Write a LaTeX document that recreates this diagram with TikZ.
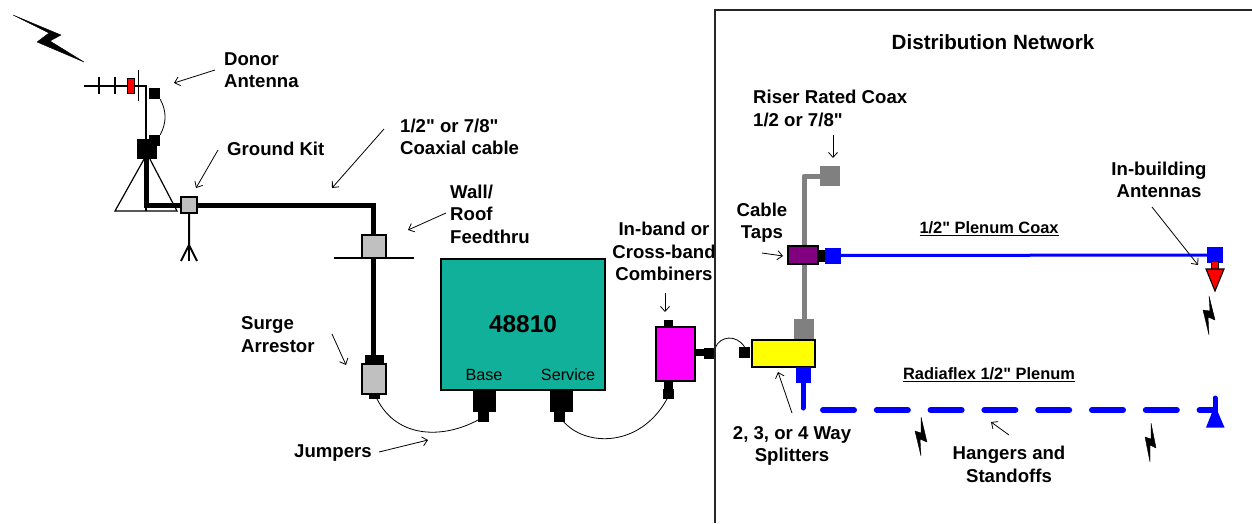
\documentclass[tikz,border=0pt]{standalone}
\usepackage{fontspec}
\setmainfont[Ligatures=TeXOff]{Liberation Sans}
\usepackage{tikz}
\usetikzlibrary{arrows.meta}

\definecolor{basegreen}{RGB}{16,176,154}
\definecolor{tapviolet}{RGB}{128,0,128}
\definecolor{kitgray}{RGB}{192,192,192}
\definecolor{combpink}{RGB}{255,0,255}
\definecolor{splityellow}{RGB}{255,255,0}
\definecolor{plenumblue}{RGB}{0,0,255}
\definecolor{antred}{RGB}{255,0,0}

\begin{document}
\begin{tikzpicture}[x=1pt,y=-1pt]
\tikzstyle{lab}=[inner sep=0pt, font=\bfseries\fontsize{18.6}{22.5}\selectfont, align=center]
\tikzstyle{sublab}=[lab, font=\bfseries\fontsize{16.4}{18}\selectfont]
\tikzstyle{port}=[inner sep=0pt, font=\fontsize{16.2}{18}\selectfont]
\tikzstyle{blk}=[rectangle, inner sep=0pt, fill=black]
\tikzstyle{box}=[rectangle, inner sep=0pt, draw=black, line width=1.2pt]
\tikzstyle{flat}=[rectangle, inner sep=0pt]
\tikzstyle{connect}=[-{Straight Barb[length=5pt,width=9pt]}, line width=0.8pt]
\tikzstyle{jumper}=[line width=0.8pt]
\tikzstyle{thin}=[line width=1.2pt]
\tikzstyle{coax}=[line width=5pt]
\tikzstyle{riser}=[line width=5pt, draw=gray]
\tikzstyle{bolt}=[fill=black, draw=black, line width=0.4pt, line join=round]
  \useasboundingbox (0,0) rectangle (1252,523);
  % donor antenna
  \coordinate (boomleft) at (84,86);
  \coordinate (boomright) at (146,86);
  \coordinate (tick1a) at (99,77);
  \coordinate (tick1b) at (99,94);
  \coordinate (tick2a) at (115,77);
  \coordinate (tick2b) at (115,94);
  \coordinate (refla) at (138.5,70);
  \coordinate (reflb) at (138.5,101);
  \coordinate (mastfoot) at (146,211);
  \coordinate (triL) at (115,211);
  \coordinate (triR) at (177,211);
  \draw[thin] (boomleft) -- (boomright) -- (mastfoot);
  \draw[thin] (tick1a) -- (tick1b);
  \draw[thin] (tick2a) -- (tick2b);
  \draw[thin] (refla) -- (reflb);
  \node[box, fill=antred, minimum width=7.5pt, minimum height=15.5pt] (driven) at (131,86) {};
  \node[blk, minimum size=11pt] (antplug) at (154.5,93.5) {};
  \node[blk, minimum size=11pt] (mastplug) at (154.5,140.5) {};
  \node[blk, minimum width=20pt, minimum height=20pt] (mastbox) at (147,149) {};
  \draw[jumper] (antplug.south east) to[bend left=28] (mastplug.north east);
  % tripod
  \draw[thin] ([xshift=-3pt]mastbox.south) -- (triL) -- (triR) -- ([xshift=3pt]mastbox.south);
  % ground kit
  \node[box, fill=kitgray, line width=2pt, minimum size=15.5pt] (kit) at (189,205) {};
  \coordinate (gstem) at (189,245);
  \coordinate (gfork1) at (181,261);
  \coordinate (gfork2) at (189,261);
  \coordinate (gfork3) at (197,261);
  \draw[line width=2pt] (kit) -- (gstem) -- (gfork1);
  \draw[line width=2pt] (gstem) -- (gfork2);
  \draw[line width=2pt] (gstem) -- (gfork3);
  % feedthru and arrestor
  \node[box, fill=kitgray, minimum width=24pt, minimum height=23pt] (feed) at (374,246.5) {};
  \coordinate (wallL) at (334,258);
  \coordinate (wallR) at (414,258);
  \draw[line width=1.2pt] (wallL) -- (wallR);
  \node[blk, minimum width=19pt, minimum height=9pt] (arrtop) at (374,359.5) {};
  \node[box, fill=kitgray, minimum width=24pt, minimum height=30pt] (arrest) at (374,379) {};
  \node[blk, minimum width=11pt, minimum height=5.5pt] (arrbot) at (374.5,396.5) {};
  % main coax
  \coordinate (bendA) at (146,205);
  \coordinate (bendB) at (373.5,205);
  \draw[coax, line join=miter] (mastbox.south -| bendA) -- (bendA) -- (kit);
  \draw[coax, line join=miter] (kit) -- (bendB) -- (feed.north -| bendB);
  \draw[coax] (feed.south -| bendB) -- (arrtop.north -| bendB);
  % base station
  \node[box, fill=basegreen, minimum width=164pt, minimum height=131pt] (base) at (523,324.5) {};
  \node[lab, font=\bfseries\fontsize{24.4}{24}\selectfont] (basenum) at (523,324) {48810};
  \node[port] (baselab) at (484,375) {Base};
  \node[port] (servlab) at (568,375) {Service};
  \node[blk, minimum width=23pt, minimum height=22pt] (baseplug) at (484.5,401) {};
  \node[blk, minimum width=11pt, minimum height=10pt] (basetip) at (483,416.5) {};
  \node[blk, minimum width=23pt, minimum height=22pt] (servplug) at (561.5,401) {};
  \node[blk, minimum width=11pt, minimum height=10pt] (servtip) at (559.5,416.5) {};
  % combiner
  \node[box, fill=combpink, minimum width=39pt, minimum height=54pt] (comb) at (675.5,354) {};
  \node[blk, minimum width=9pt, minimum height=7pt] (combtop) at (668.5,323.5) {};
  \node[blk, minimum width=9pt, minimum height=8pt] (combbot) at (668,385) {};
  \node[blk, minimum width=11pt, minimum height=10pt] (combtip) at (668.5,394) {};
  \node[blk, minimum width=9pt, minimum height=7pt] (combr) at (699.5,352.5) {};
  \node[blk, minimum width=11pt, minimum height=11pt] (combout) at (709.5,353.5) {};
  % jumpers
  \coordinate (j1a) at (377,399);
  \coordinate (j1b) at (478,420);
  \coordinate (j2a) at (563,421);
  \coordinate (j2b) at (667,399);
  \draw[jumper] (j1a) .. controls (398,440) and (445,438) .. (j1b);
  \draw[jumper] (j2a) .. controls (585,447) and (640,448) .. (j2b);
  % splitter and taps
  \node[flat, fill=gray, minimum width=20pt, minimum height=21pt] (splitin) at (804,329.5) {};
  \node[box, fill=splityellow, minimum width=63pt, minimum height=27pt] (split) at (783.5,353.5) {};
  \node[flat, fill=plenumblue, minimum width=15pt, minimum height=16pt] (splitout) at (803.5,375) {};
  \node[blk, minimum width=11pt, minimum height=11pt] (splitplug) at (744.5,352.5) {};
  \draw[jumper] (combout.north east) .. controls (720,336) and (736,334) .. (splitplug.north);
  % riser
  \node[flat, fill=gray, minimum size=20pt] (riserend) at (830,176) {};
  \node[box, fill=tapviolet, minimum width=30pt, minimum height=18pt] (tap) at (803,255) {};
  \node[blk, minimum width=10pt, minimum height=12pt] (tapplug) at (822.5,256) {};
  \node[flat, fill=plenumblue, minimum size=16pt] (tapout) at (833,255.5) {};
  \coordinate (riserbend) at (804,176);
  \draw[riser, line join=round] (riserend) -- (riserbend) -- (tap.north -| riserbend);
  \draw[riser] (tap.south -| riserbend) -- (splitin);
  % plenum coax and antenna
  \node[flat, fill=plenumblue, minimum size=16pt] (antblue) at (1215,255) {};
  \draw[line width=3pt, plenumblue] (tapout) -- (antblue);
  \node[box, fill=antred, line width=0.9pt, minimum width=7pt, minimum height=8pt] (antneck) at (1215,265) {};
  \coordinate (redL) at (1206,269);
  \coordinate (redR) at (1224,269);
  \coordinate (redtip) at (1215,291);
  \draw[line width=1.1pt, fill=antred] (redL) -- (redR) -- (redtip) -- cycle;
  % radiaflex
  \coordinate (radtop) at (803,383);
  \coordinate (radbend) at (803,408);
  \coordinate (radstart) at (823,410);
  \coordinate (radend) at (1215,410);
  \draw[line width=5pt, plenumblue, line cap=round] (radtop) -- (radbend);
  \draw[line width=6pt, plenumblue, line cap=round, dash pattern=on 31pt off 22.8pt] (radstart) -- (radend);
  \coordinate (rantop) at (1215,398);
  \coordinate (ranbase) at (1215,420);
  \draw[line width=5pt, plenumblue, line cap=round] (rantop) -- (ranbase);
  \fill[plenumblue] (1206,427.5) -- (1213,410) -- (1217,410) -- (1224.5,427.5) -- cycle;
  % bolts
  \fill[bolt] (13,15) -- (61,35) -- (50,41) -- (84,62) -- (37,42) -- (49,33) -- cycle;
  \fill[bolt] (1209,296) -- (1215,320) -- (1208,317) -- (1209,335) -- (1203,310) -- (1210,311) -- cycle;
  \fill[bolt] (1151,423) -- (1156,448) -- (1150,445) -- (1150,462) -- (1145,437) -- (1151,439) -- cycle;
  \fill[bolt] (921,417) -- (927,442) -- (920,439) -- (921,456) -- (915,431) -- (921,433) -- cycle;
  % labels
  \node[lab, anchor=west, align=left] (donor) at (224,70) {Donor\\Antenna};
  \node[lab, anchor=west] (ground) at (227,149) {Ground Kit};
  \node[lab, anchor=west, align=left] (coaxial) at (400,137) {1/2" or 7/8"\\Coaxial cable};
  \node[lab, anchor=west, align=left] (wall) at (450,214) {Wall/\\Roof\\Feedthru};
  \node[lab, anchor=west, align=left] (surge) at (241,334.5) {Surge\\Arrestor};
  \node[lab, anchor=west] (jump) at (294,453.5) {Jumpers};
  \node[lab] (combin) at (664,251.5) {In-band or\\Cross-band\\Combiners};
  \node[lab, font=\bfseries\fontsize{20.6}{24}\selectfont] (distnet) at (993,42) {Distribution Network};
  \node[lab, anchor=west, align=left] (riserlab) at (753,108.5) {Riser Rated Coax\\1/2 or 7/8"};
  \node[lab] (taps) at (762,222.5) {Cable\\Taps};
  \node[sublab] (plenum) at (989,229) {\underline{1/2" Plenum Coax}};
  \node[sublab] (radia) at (989,374.5) {\underline{Radiaflex 1/2" Plenum}};
  \node[lab] (inbuild) at (1159,180) {In-building\\Antennas};
  \node[lab] (splitters) at (792,446) {2, 3, or 4 Way\\Splitters};
  \node[lab] (hangers) at (1009,464.5) {Hangers and\\Standoffs};
  % frame
  \coordinate (framebl) at (715,523);
  \coordinate (frametl) at (715,10);
  \coordinate (frametr) at (1252,10);
  \draw[line width=1.4pt, black!85] (framebl) -- (frametl) -- (frametr);
  % arrows
  \coordinate (donorhead) at (174,83);
  \coordinate (donortail) at (215,70);
  \coordinate (groundhead) at (196,188);
  \coordinate (groundtail) at (218,150);
  \coordinate (coaxhead) at (332,188);
  \coordinate (coaxtail) at (384,129);
  \coordinate (wallhead) at (408,230);
  \coordinate (walltail) at (446,213);
  \coordinate (surgehead) at (346,365);
  \coordinate (surgetail) at (332,334);
  \coordinate (jumphead) at (428,440);
  \coordinate (jumptail) at (379,452);
  \coordinate (combhead) at (665,312);
  \coordinate (combtail) at (665,293);
  \coordinate (riserhead) at (833,158);
  \coordinate (risertail) at (833,135);
  \coordinate (taphead) at (783,256);
  \coordinate (taptail) at (762,253);
  \coordinate (splithead) at (778,372);
  \coordinate (splittail) at (792,413);
  \coordinate (antenhead) at (1198,265);
  \coordinate (antentail) at (1152,207);
  \coordinate (hanghead) at (991,422);
  \coordinate (hangtail) at (1009,435);
  \path (donortail) edge [connect] (donorhead)
        (groundtail) edge [connect] (groundhead)
        (coaxtail) edge [connect] (coaxhead)
        (walltail) edge [connect] (wallhead)
        (surgetail) edge [connect] (surgehead)
        (jumptail) edge [connect] (jumphead)
        (combtail) edge [connect] (combhead)
        (risertail) edge [connect] (riserhead)
        (taptail) edge [connect] (taphead)
        (splittail) edge [connect] (splithead)
        (antentail) edge [connect] (antenhead)
        (hangtail) edge [connect] (hanghead);
\end{tikzpicture}
\end{document}
